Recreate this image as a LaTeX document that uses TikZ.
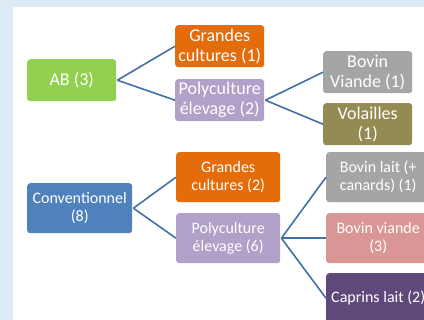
\documentclass[tikz,border=0pt]{standalone}
\usepackage{fontspec}
\setmainfont{Carlito}
\definecolor{bgblue}{RGB}{222,235,247}
\definecolor{cgreen}{RGB}{146,208,80}
\definecolor{corange}{RGB}{228,108,10}
\definecolor{clav}{RGB}{177,160,199}
\definecolor{cgray}{RGB}{165,165,165}
\definecolor{colive}{RGB}{148,138,84}
\definecolor{cblue}{RGB}{79,129,189}
\definecolor{cpink}{RGB}{217,150,148}
\definecolor{cdpurple}{RGB}{95,73,122}
\definecolor{cline}{RGB}{65,113,167}
\tikzset{
  box/.style={rounded corners=3bp, inner sep=0pt, align=center, text=white, anchor=north west},
  topbox/.style={box, minimum width=89bp, minimum height=42bp, font=\fontsize{18bp}{20bp}\selectfont},
  botbox/.style={box, minimum width=104bp, minimum height=50bp, font=\fontsize{16bp}{18bp}\selectfont},
  link/.style={draw=cline, line width=1.6bp},
}
\begin{document}
\begin{tikzpicture}[x=1bp,y=-1bp]
\clip (0,0) rectangle (424,320);
\useasboundingbox (0,0) rectangle (424,320);
\fill[bgblue] (0,0) rectangle (424,320);
\fill[white] (13,7) rectangle (424,320);
% top tree
\node[topbox, fill=cgreen] (ab) at (27,59) {AB (3)};
\node[topbox, fill=corange] (gc1) at (175,25) {Grandes\\cultures (1)};
\node[topbox, fill=clav] (pe2) at (175,79) {Polyculture\\élevage (2)};
\node[topbox, fill=cgray] (bv1) at (323,51) {Bovin\\Viande (1)};
\node[topbox, fill=colive] (vo1) at (323,103) {Volailles\\(1)};
% bottom tree
\node[botbox, minimum width=105bp, fill=cblue] (conv) at (27,183) {Conventionnel\\(8)};
\node[botbox, fill=corange] (gc2) at (176,152) {Grandes\\cultures (2)};
\node[botbox, fill=clav] (pe6) at (176,213) {Polyculture\\élevage (6)};
\node[botbox, fill=cgray] (bl1) at (326,152) {Bovin lait (+\\canards) (1)};
\node[botbox, fill=cpink] (bv3) at (326,213) {Bovin viande\\(3)};
\node[botbox, fill=cdpurple] (cl2) at (326,273) {Caprins lait (2)};
% connectors
\draw[link] ([xshift=1bp]ab.east) -- (gc1.west);
\draw[link] ([xshift=1bp]ab.east) -- (pe2.west);
\draw[link] ([xshift=1bp]pe2.east) -- (bv1.west);
\draw[link] ([xshift=1bp]pe2.east) -- (vo1.west);
\draw[link] ([xshift=1bp]conv.east) -- (gc2.west);
\draw[link] ([xshift=1bp]conv.east) -- (pe6.west);
\draw[link] ([xshift=1bp]pe6.east) -- (bl1.west);
\draw[link] ([xshift=1bp]pe6.east) -- (bv3.west);
\draw[link] ([xshift=1bp]pe6.east) -- (cl2.west);
\end{tikzpicture}
\end{document}
